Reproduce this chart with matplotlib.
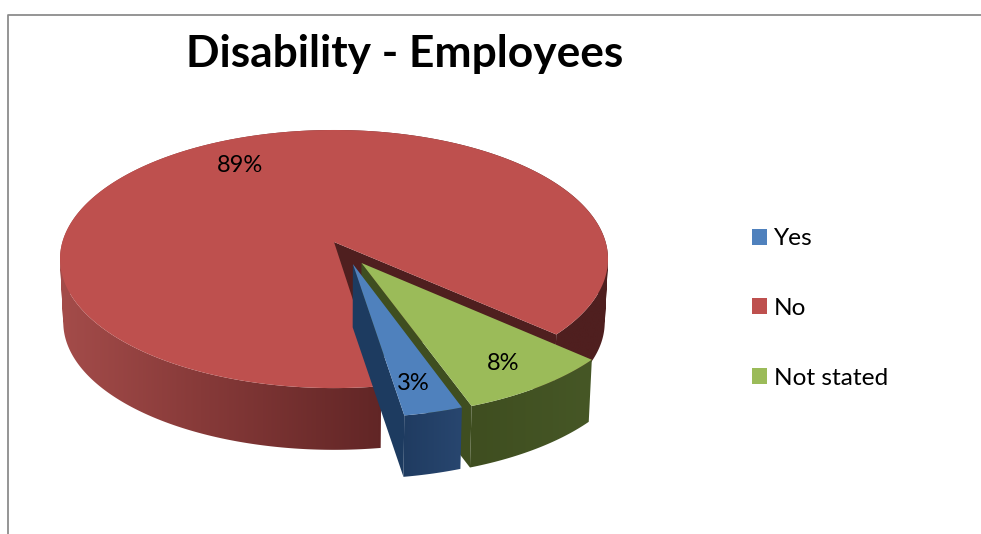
import numpy as np
import matplotlib
matplotlib.use('Agg')
import matplotlib.pyplot as plt
from matplotlib.patches import Patch
from matplotlib.path import Path

plt.rcParams['font.family'] = ['Lato', 'DejaVu Sans']

#data
categories = ['Yes', 'No', 'Not stated']
values = [3, 89, 8]

#colors for each slice: top face, cut face, and the rim shading across x (pixels)
top_colors = ['#4F81BD', '#BE504E', '#9BBB59']
cut_colors = ['#1D3B60', '#4F1F1F', '#3F4E20']
rim_x = [[400, 462], [60, 200, 378, 560, 610], [473, 593]]
rim_colors = [['#1F3B60', '#28466F'],
              ['#A44C4A', '#873A39', '#622626', '#4F1F1F', '#4F1F1F'],
              ['#3F4E20', '#465726']]
explode = [(0.068, -0.17), (0, 0), (0.099, -0.162)]
start_angle = -70.5

#pie geometry in figure pixels, k is the perspective strength
cx, cy = 334, 242
rx, ry = 271.6, 126.8
k = 0.132
depth = 63.5
shrink = 0.012


def project(u, v, z=0.0):
    w = 1 + k * v
    s = 1 - shrink * z
    return cx + rx * s * u / w, cy + depth * z - ry * s * v / w


def rim_path(x_top, y_top, x_bot, y_bot):
    #one quad per arc step, all wound the same way so they fill as a union
    verts = []
    codes = []
    for j in range(len(x_top) - 1):
        q = [(x_top[j], y_top[j]), (x_top[j + 1], y_top[j + 1]), (x_bot[j + 1], y_bot[j + 1]), (x_bot[j], y_bot[j])]
        area = sum(q[n][0] * q[(n + 1) % 4][1] - q[(n + 1) % 4][0] * q[n][1] for n in range(4))
        if area < 0:
            q = q[::-1]
        verts += q + [q[0]]
        codes += [Path.MOVETO, Path.LINETO, Path.LINETO, Path.LINETO, Path.CLOSEPOLY]
    return Path(verts, codes)


def draw_slice(ax, a0, a1, i, order):
    #a0 to a1 runs counterclockwise, in degrees
    ox, oy = explode[i]
    t = np.radians(np.linspace(a0, a1, max(int(a1 - a0) * 2, 8)))
    u = ox + np.cos(t)
    v = oy + np.sin(t)

    #outer rim, horizontal gradient clipped to the rim shape
    x_top, y_top = project(u, v)
    x_bot, y_bot = project(u, v, 1)
    path = rim_path(x_top, y_top, x_bot, y_bot)
    x_min, x_max = path.vertices[:, 0].min(), path.vertices[:, 0].max()
    y_min, y_max = path.vertices[:, 1].min(), path.vertices[:, 1].max()
    xg = np.linspace(x_min, x_max, 256)
    stops = np.array([matplotlib.colors.to_rgb(c) for c in rim_colors[i]])
    grad = np.stack([np.interp(xg, rim_x[i], stops[:, n]) for n in range(3)], axis=-1)[np.newaxis, :, :]
    im = ax.imshow(grad, extent=(x_min, x_max, y_max, y_min), aspect='auto',
                   interpolation='bilinear', zorder=order)
    im.set_clip_path(path, transform=ax.transData)

    #only the cut face at a0 looks toward the viewer
    p = [project(ox, oy), project(u[0], v[0]), project(u[0], v[0], 1), project(ox, oy, 1)]
    ax.fill(*zip(*p), color=cut_colors[i], lw=0, zorder=order + 1)

    #top face
    xs, ys = project(np.append(u, ox), np.append(v, oy))
    ax.fill(xs, ys, color=top_colors[i], lw=0, zorder=order + 2)


fig = plt.figure(figsize=(9.81, 5.34), dpi=100)
ax = fig.add_axes([0, 0, 1, 1])
ax.axis('off')

#outer chart border, cut off at the right and bottom
ax.plot([8, 8, 981], [534, 15, 15], color='#8C8C8C', lw=1.3)

#angles go clockwise from the start, like the spreadsheet pie
sweep = [v / sum(values) * 360 for v in values]
a_yes = (start_angle - sweep[0], start_angle)
a_no = (start_angle - sweep[0] - sweep[1], start_angle - sweep[0])
a_not = (start_angle, start_angle + sweep[2])

#back to front
draw_slice(ax, a_no[0], a_no[1], 1, 10)
draw_slice(ax, a_not[0], a_not[1], 2, 20)
draw_slice(ax, a_yes[0], a_yes[1], 0, 30)

ax.set_xlim(0, 981)
ax.set_ylim(534, 0)

ax.text(405, 67, 'Disability - Employees', fontsize=31.9, fontweight='bold', ha='center', va='baseline', zorder=50)

label_pos = [(413, 383), (240, 165), (503, 364)]
for v, (x, y) in zip(values, label_pos):
    ax.text(x, y, f'{v}%', fontsize=17, ha='center', va='center', zorder=50)

handles = [Patch(facecolor=c, edgecolor='none', lw=0, label=n) for c, n in zip(top_colors, categories)]
ax.legend(handles=handles, loc='center left', bbox_to_anchor=(752 / 981, 1 - 308.5 / 534), frameon=False,
          fontsize=17.6, handlelength=0.62, handleheight=0.62, handletextpad=0.26, labelspacing=1.99,
          borderpad=0, borderaxespad=0)

plt.savefig('out.png', dpi=100)
